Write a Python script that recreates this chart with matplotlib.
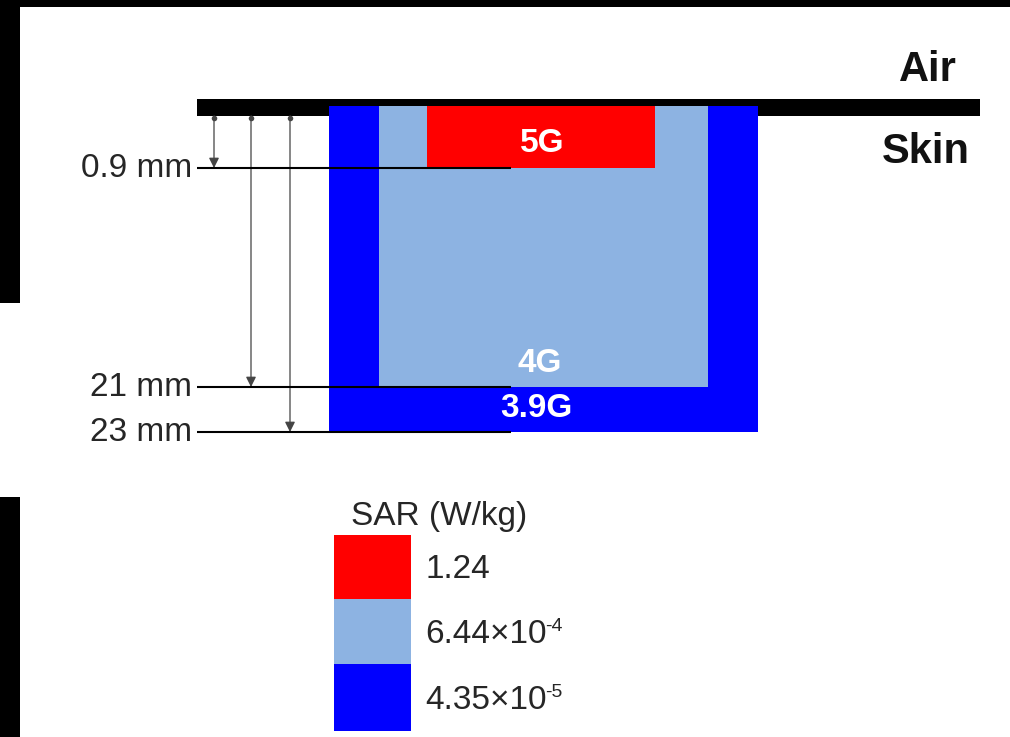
import matplotlib
matplotlib.use("Agg")
import matplotlib.pyplot as plt
from matplotlib.patches import Rectangle

plt.rcParams['font.family'] = ['Liberation Sans', 'DejaVu Sans']

# ---- data ----
bands = ['5G', '4G', '3.9G']
depths_mm = [0.9, 21, 23]
depth_labels = ['0.9 mm', '21 mm', '23 mm']
sar_mantissa = ['1.24', '6.44', '4.35']
sar_exponent = [None, '-4', '-5']
band_colors = ['#ff0000', '#8db3e2', '#0000ff']
legend_title = 'SAR (W/kg)'

# ---- layout (pixel space, schematic; not to scale) ----
W, H = 1010, 737
fig = plt.figure(figsize=(W / 100, H / 100), dpi=100)
ax = fig.add_axes([0, 0, 1, 1])
ax.set_xlim(0, W)
ax.set_ylim(H, 0)
ax.axis('off')

surface_top, surface_bot = 99, 116
box_top = 106
depth_y = [168, 387, 432]          # screen y of each depth line
band_boxes = {'3.9G': (329, 758, depth_y[2]),
              '4G': (379, 708, depth_y[1]),
              '5G': (427, 655, depth_y[0])}
band_text_y = {'5G': 143, '4G': 363, '3.9G': 408}
band_text_x = {'5G': 542, '4G': 540, '3.9G': 536}

# frame artefacts (black borders)
ax.add_patch(Rectangle((0, 0), W, 7, color='black', lw=0, zorder=0))
ax.add_patch(Rectangle((0, 0), 20, 303, color='black', lw=0, zorder=0))
ax.add_patch(Rectangle((0, 497), 20, H - 497, color='black', lw=0, zorder=0))

# skin surface bar
ax.add_patch(Rectangle((197, surface_top), 980 - 197, surface_bot - surface_top,
                       color='black', lw=0, zorder=1))

# nested penetration boxes, drawn from deepest to shallowest
for name, col in zip(reversed(bands), reversed(band_colors)):
    x0, x1, yb = band_boxes[name]
    ax.add_patch(Rectangle((x0, box_top), x1 - x0, yb - box_top,
                           facecolor=col, edgecolor='none', zorder=2))

for name in bands:
    ax.text(band_text_x[name], band_text_y[name], name, color='white',
            fontsize=24, fontweight='bold', ha='center', va='center', zorder=5)

# depth lines, labels and arrows
arrow_x = [214, 251, 290]
for lab, y, xa in zip(depth_labels, depth_y, arrow_x):
    ax.plot([197, 511], [y, y], color='black', lw=1.5, zorder=4,
            solid_capstyle='butt')
    ax.text(192, y, lab, ha='right', va='center', fontsize=24, color='#262626')
    ax.annotate('', xy=(xa, y), xytext=(xa, surface_bot),
                arrowprops=dict(arrowstyle='-|>,head_length=0.6,head_width=0.3',
                                mutation_scale=10, color='#444444', lw=0.9,
                                shrinkA=0, shrinkB=0), zorder=3)
    ax.plot([xa], [surface_bot + 2], marker='o', ms=4, color='#444444',
            mec='none', zorder=3)

# Air / Skin labels
ax.text(957, 70, 'Air', ha='right', va='center', fontsize=30,
        fontweight='bold', color='#111111')
ax.text(970, 152, 'Skin', ha='right', va='center', fontsize=30,
        fontweight='bold', color='#111111')

# legend
ax.text(351, 516, legend_title, ha='left', va='center', fontsize=24,
        color='#262626')
leg_y = [535, 599, 664, 731]
for i, (col, m, e) in enumerate(zip(band_colors, sar_mantissa, sar_exponent)):
    ax.add_patch(Rectangle((334, leg_y[i]), 411 - 334, leg_y[i + 1] - leg_y[i],
                           facecolor=col, edgecolor='none'))
    s = m if e is None else m + '×10'
    t = ax.text(425, (leg_y[i] + leg_y[i + 1]) / 2 + 3, s, ha='left',
                va='center', fontsize=24, color='#262626')
    if e is not None:
        ax.annotate(e, xy=(1.0, 1.0), xycoords=t, xytext=(-1, 1),
                    textcoords='offset points', ha='left', va='top',
                    fontsize=14, color='#262626')

fig.savefig('out.png', dpi=100)
